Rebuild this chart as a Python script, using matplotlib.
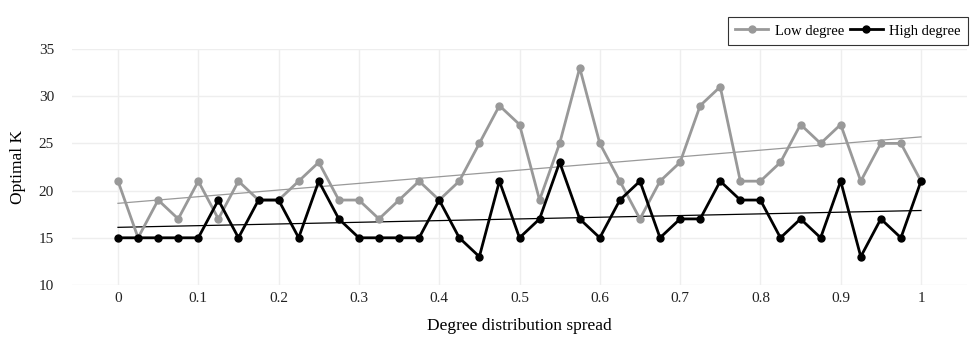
import numpy as np
import matplotlib
matplotlib.use("Agg")
import matplotlib.pyplot as plt

plt.rcParams['font.family'] = ['Liberation Serif', 'DejaVu Serif']

spread = [i / 40 for i in range(41)]
low_degree = [21, 15, 19, 17, 21, 17, 21, 19, 19, 21, 23, 19, 19, 17, 19, 21, 19, 21, 25, 29,
              27, 19, 25, 33, 25, 21, 17, 21, 23, 29, 31, 21, 21, 23, 27, 25, 27, 21, 25, 25, 21]
high_degree = [15, 15, 15, 15, 15, 19, 15, 19, 19, 15, 21, 17, 15, 15, 15, 15, 19, 15, 13, 21,
               15, 17, 23, 17, 15, 19, 21, 15, 17, 17, 21, 19, 19, 15, 17, 15, 21, 13, 17, 15, 21]
x_ticks = [0, 0.1, 0.2, 0.3, 0.4, 0.5, 0.6, 0.7, 0.8, 0.9, 1]
x_ticklabels = ['0', '0.1', '0.2', '0.3', '0.4', '0.5', '0.6', '0.7', '0.8', '0.9', '1']
y_ticks = [10, 15, 20, 25, 30, 35]

GRAY = '#999999'
BLACK = '#000000'

fig = plt.figure(figsize=(9.71, 3.37), dpi=100)
W, H = 971, 337
ax = fig.add_axes([72 / W, 1 - 285 / H, (967 - 72) / W, (285 - 49) / H])

x = np.array(spread)
for ys, col in [(low_degree, GRAY), (high_degree, BLACK)]:
    ys = np.array(ys, dtype=float)
    m, b = np.polyfit(x, ys, 1)
    ax.plot([0, 1], [b, m + b], color=col, lw=0.9, zorder=2)

ax.plot(spread, low_degree, color=GRAY, lw=2, marker='o', ms=5, label='Low degree', zorder=3)
ax.plot(spread, high_degree, color=BLACK, lw=2, marker='o', ms=5, label='High degree', zorder=4)

x0 = 118; x1 = 921
scale = (x1 - x0)
ax.set_xlim((72 - x0) / scale, (967 - x0) / scale)
ax.set_ylim(10, 35)
ax.set_xticks(x_ticks)
ax.set_xticklabels(x_ticklabels)
ax.set_yticks(y_ticks)
ax.grid(True, color='#eeeeee', lw=1)
ax.set_axisbelow(True)
for s in ax.spines.values():
    s.set_visible(False)
ax.tick_params(length=0, labelsize=11, colors='#222222')
ax.tick_params(axis='x', pad=5)
ax.tick_params(axis='y', pad=13)
ax.set_xlabel('Degree distribution spread', fontsize=12.5)
ax.set_ylabel('Optimal K', fontsize=12.5)
ax.xaxis.set_label_coords(0.5, 1 - (326 - 49) / (285 - 49))
ax.xaxis.label.set_va('center')
ax.yaxis.set_label_coords((18 - 72) / (967 - 72), 0.5)
ax.yaxis.label.set_va('center')

leg = ax.legend(loc='upper right', bbox_to_anchor=(968 / W, 1 - 17 / H), bbox_transform=fig.transFigure,
                ncol=2, frameon=True, fancybox=False, edgecolor='black', fontsize=10.5,
                handlelength=2.25, columnspacing=0.4, handletextpad=0.45, borderpad=0.5,
                borderaxespad=0)
leg.get_frame().set_linewidth(0.8)

fig.savefig('out.png', dpi=100)
